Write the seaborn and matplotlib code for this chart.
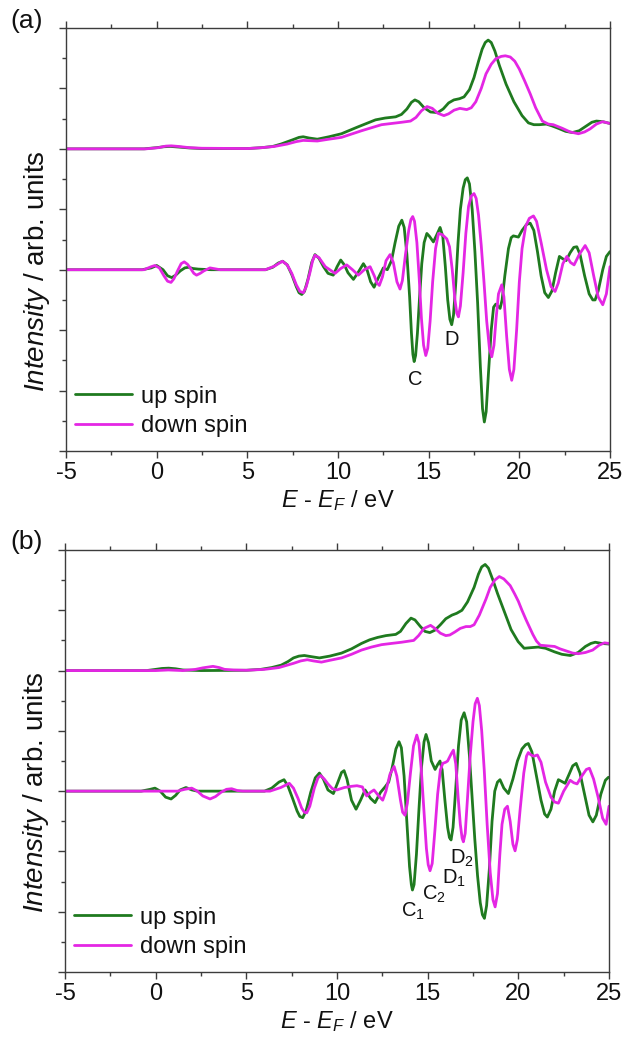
import matplotlib
matplotlib.use('Agg')
import matplotlib.pyplot as plt
from matplotlib.ticker import MultipleLocator, NullFormatter
from matplotlib.lines import Line2D
import seaborn as sns

# ── Style ────────────────────────────────────────────────────────────────────
sns.set_theme(style='ticks')
plt.rcParams.update({
    'font.family': ['Liberation Sans', 'DejaVu Sans'],
    'mathtext.fontset': 'custom',
    'mathtext.rm': 'Liberation Sans',
    'mathtext.it': 'Liberation Sans:italic',
    'axes.unicode_minus': False,
    'axes.edgecolor': '#3c3c3c',
    'axes.linewidth': 1.0,
    'xtick.color': '#3c3c3c',
    'ytick.color': '#3c3c3c',
    'xtick.labelcolor': '#111111',
    'text.color': '#111111',
    'axes.labelcolor': '#111111',
})
GREEN = '#1f7a1f'
MAGENTA = '#e426e4'
UPPER_OFF = 5.0
LOWER_OFF = 3.0

# ── Data: (E - E_F [eV], intensity relative to its baseline) ────────────────
# panel (a), upper spectra
a_up_spin = [(-5, 0), (-0.7, 0), (0.0, 0.02), (0.4, 0.035), (0.77, 0.04), (1.2, 0.03),
             (1.8, 0.015), (2.5, 0.005), (5.0, 0.005), (5.8, 0.02), (6.4, 0.04), (6.86, 0.08),
             (7.5, 0.15), (7.85, 0.19), (8.08, 0.20), (8.4, 0.18), (8.86, 0.16), (9.5, 0.20),
             (10.19, 0.25), (11.07, 0.36), (12.07, 0.48), (12.6, 0.51), (13.18, 0.53), (13.5, 0.57),
             (13.8, 0.66), (14.05, 0.77), (14.24, 0.81), (14.45, 0.78), (14.75, 0.68), (15.1, 0.61),
             (15.5, 0.60), (15.8, 0.66), (16.1, 0.76), (16.39, 0.81), (16.7, 0.83), (16.95, 0.86),
             (17.25, 0.98), (17.5, 1.18), (17.75, 1.45), (17.95, 1.65), (18.12, 1.76), (18.28, 1.80),
             (18.45, 1.76), (18.65, 1.62), (18.9, 1.38), (19.27, 1.07), (19.7, 0.78), (20.15, 0.55),
             (20.5, 0.43), (20.8, 0.40), (21.1, 0.40), (21.49, 0.41), (21.8, 0.38), (22.15, 0.34),
             (22.55, 0.29), (22.93, 0.27), (23.3, 0.30), (23.7, 0.38), (24.0, 0.44), (24.25, 0.46),
             (24.6, 0.45), (25.0, 0.42)]
a_dn_spin = [(-5, 0), (-0.6, 0), (0.1, 0.02), (0.5, 0.045), (0.8, 0.05), (1.2, 0.04),
             (1.8, 0.02), (2.5, 0.01), (5.0, 0.005), (5.8, 0.02), (6.5, 0.04), (7.2, 0.08),
             (7.7, 0.12), (8.08, 0.14), (8.86, 0.13), (9.5, 0.16), (10.19, 0.19), (11.3, 0.30),
             (12.4, 0.40), (13.51, 0.44), (14.0, 0.46), (14.3, 0.52), (14.6, 0.63), (14.91, 0.70),
             (15.2, 0.67), (15.5, 0.59), (15.84, 0.55), (16.1, 0.58), (16.4, 0.64), (16.72, 0.67),
             (17.1, 0.65), (17.35, 0.68), (17.6, 0.78), (17.9, 1.00), (18.16, 1.24), (18.45, 1.40),
             (18.7, 1.49), (19.0, 1.53), (19.23, 1.54), (19.5, 1.52), (19.75, 1.45), (20.0, 1.32),
             (20.3, 1.12), (20.6, 0.91), (20.9, 0.68), (21.27, 0.46), (21.6, 0.41), (21.87, 0.40),
             (22.37, 0.34), (22.8, 0.28), (23.26, 0.25), (23.6, 0.28), (23.9, 0.33), (24.25, 0.41),
             (24.59, 0.45), (25.0, 0.42)]
# panel (a), lower (difference) spectra
a_up_diff = [(-5, 0), (-0.8, 0), (-0.3, 0.03), (0.0, 0.07), (0.35, 0.0), (0.6, -0.1),
             (0.83, -0.13), (1.05, -0.09), (1.3, -0.02), (1.55, 0.03), (1.75, 0.04), (2.0, 0.02),
             (2.3, 0.01), (3.0, 0), (6.0, 0), (6.4, 0.04), (6.7, 0.11), (6.95, 0.14),
             (7.2, 0.08), (7.45, -0.08), (7.7, -0.28), (7.85, -0.38), (8.0, -0.41), (8.15, -0.36),
             (8.35, -0.15), (8.55, 0.12), (8.73, 0.25), (8.95, 0.19), (9.2, 0.05), (9.45, -0.06),
             (9.74, -0.09), (9.95, 0.05), (10.15, 0.16), (10.35, 0.08), (10.55, -0.05), (10.85, -0.16),
             (11.1, -0.05), (11.4, 0.10), (11.6, 0.0), (11.8, -0.2), (11.99, -0.29), (12.2, -0.15),
             (12.5, 0.03), (12.72, 0.0), (12.95, 0.15), (13.15, 0.45), (13.35, 0.72), (13.52, 0.82),
             (13.65, 0.70), (13.8, 0.25), (13.95, -0.45), (14.05, -1.05), (14.13, -1.40), (14.2, -1.52),
             (14.28, -1.42), (14.38, -1.05), (14.5, -0.45), (14.62, 0.1), (14.75, 0.45), (14.9, 0.60),
             (15.05, 0.55), (15.26, 0.46), (15.45, 0.58), (15.63, 0.70), (15.78, 0.55), (15.92, 0.05),
             (16.05, -0.50), (16.17, -0.82), (16.27, -0.91), (16.37, -0.75), (16.5, -0.2), (16.62, 0.45),
             (16.75, 1.0), (16.9, 1.35), (17.02, 1.49), (17.13, 1.52), (17.25, 1.42), (17.4, 1.0),
             (17.55, 0.3), (17.7, -0.55), (17.85, -1.6), (17.97, -2.3), (18.07, -2.52), (18.17, -2.35),
             (18.3, -1.7), (18.45, -1.0), (18.58, -0.62), (18.7, -0.57), (18.82, -0.6), (18.94, -0.64),
             (19.05, -0.5), (19.2, -0.1), (19.4, 0.35), (19.55, 0.53), (19.67, 0.56), (19.95, 0.54),
             (20.15, 0.65), (20.4, 0.75), (20.6, 0.77), (20.8, 0.65), (21.0, 0.3), (21.2, -0.1),
             (21.4, -0.38), (21.6, -0.46), (21.8, -0.35), (22.0, -0.05), (22.21, 0.22), (22.4, 0.18),
             (22.58, 0.15), (22.8, 0.28), (23.0, 0.37), (23.17, 0.38), (23.35, 0.25), (23.6, -0.1),
             (23.85, -0.4), (24.05, -0.5), (24.18, -0.50), (24.35, -0.35), (24.6, 0.0), (24.8, 0.22),
             (25.0, 0.30)]
a_dn_diff = [(-5, 0), (-0.7, 0), (-0.3, 0.05), (-0.1, 0.07), (0.15, 0.03), (0.4, -0.1),
             (0.6, -0.19), (0.79, -0.21), (0.95, -0.15), (1.15, -0.02), (1.35, 0.1), (1.52, 0.13),
             (1.7, 0.09), (1.85, 0.03), (2.05, -0.06), (2.2, -0.09), (2.4, -0.06), (2.6, -0.02),
             (2.94, 0.03), (3.5, 0), (6.0, 0), (6.5, 0.06), (6.93, 0.14), (7.2, 0.08),
             (7.45, -0.06), (7.7, -0.25), (7.9, -0.36), (8.09, -0.38), (8.25, -0.28), (8.45, -0.05),
             (8.6, 0.15), (8.73, 0.24), (8.95, 0.20), (9.3, 0.05), (9.84, -0.06), (10.15, 0.02),
             (10.48, 0.08), (10.8, 0.0), (11.12, -0.09), (11.45, 0.0), (11.77, 0.05), (12.0, -0.1),
             (12.15, -0.22), (12.28, -0.26), (12.45, -0.12), (12.65, 0.15), (12.87, 0.25), (13.05, 0.12),
             (13.25, -0.2), (13.42, -0.32), (13.55, -0.18), (13.72, 0.25), (13.9, 0.65), (14.02, 0.83),
             (14.12, 0.88), (14.22, 0.80), (14.35, 0.45), (14.48, -0.15), (14.6, -0.8), (14.72, -1.25),
             (14.84, -1.42), (14.95, -1.3), (15.08, -0.85), (15.22, -0.2), (15.38, 0.35), (15.54, 0.60),
             (15.75, 0.58), (16.0, 0.51), (16.15, 0.38), (16.3, 0.0), (16.45, -0.5), (16.55, -0.72),
             (16.64, -0.78), (16.75, -0.6), (16.9, -0.05), (17.05, 0.6), (17.2, 1.05), (17.35, 1.22),
             (17.5, 1.26), (17.62, 1.18), (17.75, 0.9), (17.9, 0.4), (18.05, -0.2), (18.2, -0.85),
             (18.35, -1.3), (18.48, -1.44), (18.6, -1.25), (18.72, -0.8), (18.85, -0.4), (19.03, -0.25),
             (19.15, -0.45), (19.3, -1.1), (19.45, -1.65), (19.58, -1.83), (19.7, -1.65), (19.85, -1.0),
             (20.0, -0.2), (20.15, 0.35), (20.35, 0.72), (20.55, 0.85), (20.78, 0.89), (20.95, 0.80),
             (21.2, 0.45), (21.5, 0.0), (21.75, -0.28), (21.97, -0.36), (22.15, -0.22), (22.4, 0.1),
             (22.62, 0.22), (22.82, 0.12), (23.02, 0.08), (23.3, 0.25), (23.63, 0.40), (23.85, 0.28),
             (24.1, -0.1), (24.35, -0.45), (24.6, -0.58), (24.8, -0.4), (25.0, 0.05)]
# panel (b), upper spectra
b_up_spin = [(-5, 0), (-0.5, 0), (0.0, 0.02), (0.35, 0.035), (0.72, 0.04), (1.1, 0.03),
             (1.5, 0.01), (2.5, 0.0), (5.0, 0.005), (5.8, 0.02), (6.4, 0.05), (6.92, 0.09),
             (7.3, 0.15), (7.6, 0.21), (7.9, 0.24), (8.2, 0.25), (8.6, 0.23), (9.03, 0.21),
             (9.6, 0.24), (10.25, 0.29), (10.8, 0.36), (11.35, 0.45), (11.8, 0.51), (12.24, 0.55),
             (12.7, 0.58), (13.24, 0.60), (13.5, 0.65), (13.8, 0.78), (14.08, 0.87), (14.3, 0.84),
             (14.6, 0.73), (14.85, 0.65), (15.12, 0.63), (15.4, 0.67), (15.7, 0.76), (16.0, 0.86),
             (16.34, 0.92), (16.6, 0.95), (16.89, 1.00), (17.2, 1.14), (17.56, 1.38), (17.8, 1.60),
             (17.98, 1.72), (18.17, 1.76), (18.35, 1.70), (18.6, 1.50), (18.85, 1.28), (19.1, 1.08),
             (19.35, 0.88), (19.6, 0.68), (19.99, 0.48), (20.32, 0.37), (20.7, 0.38), (21.1, 0.39),
             (21.5, 0.37), (22.0, 0.31), (22.4, 0.27), (22.87, 0.25), (23.3, 0.30), (23.7, 0.40),
             (24.0, 0.45), (24.24, 0.47), (24.6, 0.45), (25.0, 0.44)]
b_dn_spin = [(-5, 0), (0, 0), (0.7, 0.01), (1.5, 0.0), (2.2, 0.02), (2.6, 0.045),
             (3.16, 0.07), (3.5, 0.05), (3.8, 0.02), (4.3, 0.01), (5.0, 0.005), (6.0, 0.02),
             (6.8, 0.05), (7.6, 0.12), (8.0, 0.16), (8.36, 0.18), (8.7, 0.16), (9.14, 0.14),
             (9.6, 0.17), (10.25, 0.21), (10.8, 0.27), (11.35, 0.34), (11.9, 0.39), (12.46, 0.43),
             (13.0, 0.45), (13.56, 0.47), (14.0, 0.49), (14.23, 0.50), (14.5, 0.58), (14.8, 0.70),
             (15.16, 0.75), (15.4, 0.70), (15.7, 0.62), (16.0, 0.58), (16.22, 0.59), (16.5, 0.64),
             (16.8, 0.70), (17.11, 0.73), (17.35, 0.73), (17.56, 0.76), (17.85, 0.92), (18.22, 1.19),
             (18.45, 1.38), (18.7, 1.50), (18.95, 1.56), (19.2, 1.52), (19.55, 1.41), (19.8, 1.27),
             (20.0, 1.15), (20.2, 1.00), (20.43, 0.84), (20.8, 0.60), (21.0, 0.49), (21.21, 0.42),
             (21.6, 0.41), (22.0, 0.40), (22.3, 0.36), (22.6, 0.33), (23.0, 0.29), (23.31, 0.28),
             (23.7, 0.30), (24.1, 0.34), (24.45, 0.42), (24.75, 0.46), (25.0, 0.45)]
# panel (b), lower (difference) spectra
b_up_diff = [(-5, 0), (-0.8, 0), (-0.3, 0.03), (-0.04, 0.05), (0.25, 0.0), (0.55, -0.1),
             (0.85, -0.13), (1.1, -0.07), (1.35, 0.02), (1.67, 0.06), (2.0, 0.02), (2.3, 0.0),
             (6.0, 0), (6.4, 0.05), (6.8, 0.15), (7.08, 0.19), (7.3, 0.08), (7.55, -0.12),
             (7.8, -0.33), (7.95, -0.42), (8.11, -0.44), (8.3, -0.32), (8.55, -0.02), (8.8, 0.22),
             (9.03, 0.30), (9.25, 0.20), (9.5, 0.02), (9.8, -0.04), (10.05, 0.15), (10.25, 0.31),
             (10.39, 0.34), (10.55, 0.20), (10.8, -0.15), (11.05, -0.30), (11.3, -0.15), (11.55, 0.02),
             (11.85, -0.12), (12.1, -0.19), (12.4, -0.02), (12.65, 0.07), (12.85, 0.15), (13.05, 0.40),
             (13.25, 0.70), (13.42, 0.82), (13.55, 0.72), (13.7, 0.25), (13.85, -0.5), (14.0, -1.25),
             (14.1, -1.55), (14.16, -1.64), (14.25, -1.55), (14.38, -1.05), (14.52, -0.3), (14.66, 0.4),
             (14.8, 0.82), (14.91, 0.94), (15.05, 0.80), (15.2, 0.50), (15.41, 0.36), (15.55, 0.44),
             (15.68, 0.50), (15.8, 0.35), (15.95, -0.15), (16.1, -0.6), (16.2, -0.77), (16.29, -0.81),
             (16.4, -0.6), (16.55, 0.05), (16.7, 0.75), (16.85, 1.18), (17.01, 1.30), (17.15, 1.15),
             (17.3, 0.6), (17.45, -0.1), (17.6, -0.8), (17.75, -1.4), (17.9, -1.85), (18.02, -2.05),
             (18.13, -2.11), (18.25, -1.9), (18.4, -1.3), (18.55, -0.5), (18.7, 0.0), (18.85, 0.15),
             (18.99, 0.19), (19.2, 0.05), (19.45, -0.04), (19.7, 0.20), (19.95, 0.50), (20.2, 0.70),
             (20.4, 0.77), (20.55, 0.79), (20.75, 0.65), (21.0, 0.25), (21.25, -0.15), (21.45, -0.38),
             (21.6, -0.43), (21.8, -0.30), (22.0, 0.0), (22.21, 0.19), (22.4, 0.16), (22.58, 0.13),
             (22.8, 0.28), (23.0, 0.42), (23.19, 0.46), (23.4, 0.30), (23.65, -0.05), (23.9, -0.4),
             (24.11, -0.51), (24.3, -0.4), (24.55, -0.05), (24.8, 0.18), (24.97, 0.23)]
b_dn_diff = [(-5, 0), (1.2, 0), (1.6, 0.03), (1.99, 0.05), (2.3, 0.0), (2.6, -0.08),
             (3.0, -0.13), (3.3, -0.09), (3.6, -0.02), (3.9, 0.03), (4.19, 0.04), (4.5, 0.01),
             (4.8, 0.0), (6.3, 0.0), (6.9, 0.06), (7.37, 0.13), (7.6, 0.05), (7.85, -0.12),
             (8.05, -0.28), (8.2, -0.35), (8.33, -0.36), (8.5, -0.25), (8.75, 0.05), (8.95, 0.22),
             (9.1, 0.26), (9.3, 0.20), (9.5, 0.12), (9.75, 0.04), (9.99, 0.02), (10.4, 0.06),
             (10.8, 0.08), (11.1, 0.09), (11.4, 0.07), (11.52, -0.02), (11.64, -0.08), (11.84, -0.02),
             (12.04, 0.02), (12.3, -0.08), (12.52, -0.15), (12.7, 0.0), (12.92, 0.28), (13.15, 0.41),
             (13.3, 0.25), (13.5, -0.15), (13.62, -0.35), (13.75, -0.40), (13.88, -0.2), (14.05, 0.3),
             (14.22, 0.75), (14.4, 0.93), (14.52, 0.80), (14.65, 0.35), (14.8, -0.35), (14.93, -0.95),
             (15.03, -1.22), (15.13, -1.32), (15.25, -1.2), (15.4, -0.65), (15.55, -0.05), (15.7, 0.35),
             (15.83, 0.46), (16.0, 0.48), (16.1, 0.50), (16.3, 0.62), (16.42, 0.68), (16.55, 0.45),
             (16.68, -0.1), (16.8, -0.55), (16.9, -0.78), (16.97, -0.84), (17.07, -0.7), (17.2, -0.1),
             (17.35, 0.6), (17.5, 1.15), (17.62, 1.45), (17.74, 1.54), (17.85, 1.42), (17.98, 1.0),
             (18.12, 0.35), (18.28, -0.55), (18.45, -1.35), (18.6, -1.8), (18.72, -1.92), (18.85, -1.7),
             (18.98, -1.05), (19.1, -0.55), (19.25, -0.3), (19.4, -0.25), (19.55, -0.5), (19.7, -0.88),
             (19.82, -0.99), (19.95, -0.8), (20.1, -0.3), (20.3, 0.3), (20.45, 0.58), (20.55, 0.64),
             (20.7, 0.60), (20.85, 0.58), (21.05, 0.60), (21.25, 0.48), (21.5, 0.15), (21.8, -0.1),
             (22.0, -0.18), (22.21, -0.20), (22.5, 0.0), (22.86, 0.18), (23.05, 0.14), (23.24, 0.12),
             (23.5, 0.25), (23.75, 0.36), (23.92, 0.38), (24.15, 0.20), (24.4, -0.1), (24.65, -0.45),
             (24.84, -0.55), (25.0, -0.25)]

# peak labels: (text, E, absolute y in axis units)
a_notes = [('C', 14.25, 1.19), ('D', 16.24, 1.84)]
b_notes = [('C$_1$', 14.2, 1.0), ('C$_2$', 15.35, 1.28),
           ('D$_1$', 16.45, 1.55), ('D$_2$', 16.9, 1.88)]


def draw(ax, spectra, notes):
    for pts, color, off in spectra:
        xs = [p[0] for p in pts]
        ys = [p[1] + off for p in pts]
        sns.lineplot(x=xs, y=ys, ax=ax, color=color, lw=2.0, sort=False,
                     estimator=None, solid_joinstyle='round')
    for txt, e, y in notes:
        ax.text(e, y, txt, ha='center', va='center', fontsize=14.5)

    ax.set_xlim(-5, 25)
    ax.set_ylim(0, 7)
    ax.xaxis.set_major_locator(MultipleLocator(5))
    ax.xaxis.set_minor_locator(MultipleLocator(2.5))
    ax.yaxis.set_major_locator(MultipleLocator(1))
    ax.yaxis.set_minor_locator(MultipleLocator(0.5))
    ax.yaxis.set_major_formatter(NullFormatter())
    ax.tick_params(which='both', direction='out', top=True, right=False,
                   labeltop=False, labelleft=False, width=1.0)
    ax.tick_params(which='major', length=5, labelsize=17, pad=3)
    ax.tick_params(which='minor', length=3)
    ax.set_xlabel(r'$\it{E}$ - $\it{E}_{\it{F}}$ / eV', fontsize=17, labelpad=3)
    ax.set_ylabel(r'$\it{Intensity}$ / arb. units', fontsize=20)
    ax.yaxis.set_label_coords(-0.026, 0.425)

    handles = [Line2D([], [], color=GREEN, lw=2.0),
               Line2D([], [], color=MAGENTA, lw=2.0)]
    ax.legend(handles, ['up spin', 'down spin'], loc='lower left',
              bbox_to_anchor=(-0.009, 0.0), frameon=False, fontsize=17,
              handlelength=2.4, handletextpad=0.4, labelspacing=0.3,
              borderaxespad=0.3, borderpad=0.3)


fig = plt.figure(figsize=(6.3, 10.45), dpi=100)
ax_a = fig.add_axes([66 / 630, 1 - 451 / 1045, 544 / 630, 423 / 1045])
ax_b = fig.add_axes([65 / 630, 1 - 972 / 1045, 544 / 630, 422 / 1045])

draw(ax_a, [(a_up_spin, GREEN, UPPER_OFF), (a_dn_spin, MAGENTA, UPPER_OFF),
            (a_up_diff, GREEN, LOWER_OFF), (a_dn_diff, MAGENTA, LOWER_OFF)], a_notes)
draw(ax_b, [(b_up_spin, GREEN, UPPER_OFF), (b_dn_spin, MAGENTA, UPPER_OFF),
            (b_up_diff, GREEN, LOWER_OFF), (b_dn_diff, MAGENTA, LOWER_OFF)], b_notes)

fig.text(0.016, 1 - 21 / 1045, '(a)', fontsize=19, va='center')
fig.text(0.016, 1 - 542 / 1045, '(b)', fontsize=19, va='center')

fig.savefig('out.png', dpi=100, facecolor='white')
